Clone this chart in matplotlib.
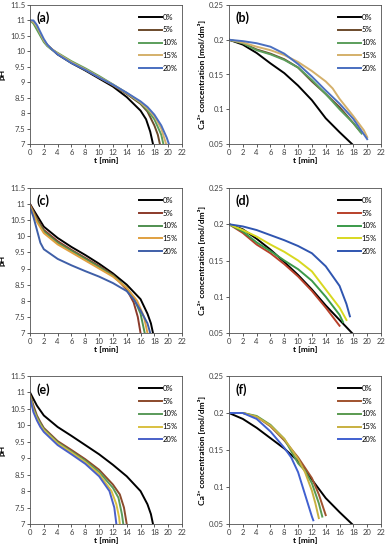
import matplotlib.pyplot as plt
from matplotlib.ticker import FormatStrFormatter, MultipleLocator

plt.rcParams['font.family'] = ['Lato', 'DejaVu Sans']

labels = ['0%', '5%', '10%', '15%', '20%']

# (a) pH
a_t = [
    [0, 0.5, 1, 2, 2.5, 3, 4, 6, 8, 10, 12, 14, 16, 16.8, 17.4, 17.8],
    [0, 0.5, 1, 2, 2.5, 3, 4, 6, 8, 10, 12, 14, 16, 17, 18, 18.5, 18.8],
    [0, 0.5, 1, 2, 2.5, 3, 4, 6, 8, 10, 12, 14, 16, 17, 18, 19, 19.3],
    [0, 0.5, 1, 2, 2.5, 3, 4, 6, 8, 10, 12, 14, 16, 17, 18, 19, 19.7],
    [0, 0.5, 1, 2, 2.5, 3, 4, 6, 8, 10, 12, 14, 16, 17, 18, 19, 19.8, 20.1],
]
a_y = [
    [11, 10.95, 10.75, 10.35, 10.2, 10.1, 9.9, 9.62, 9.38, 9.12, 8.86, 8.52, 8.08, 7.8, 7.4, 7.0],
    [11, 10.95, 10.75, 10.35, 10.2, 10.1, 9.92, 9.64, 9.4, 9.15, 8.9, 8.62, 8.3, 8.05, 7.6, 7.3, 7.0],
    [11, 10.9, 10.7, 10.3, 10.17, 10.08, 9.95, 9.68, 9.45, 9.2, 8.93, 8.65, 8.33, 8.1, 7.8, 7.3, 7.0],
    [11, 10.95, 10.8, 10.35, 10.2, 10.1, 9.93, 9.65, 9.42, 9.17, 8.92, 8.65, 8.35, 8.15, 7.9, 7.5, 7.0],
    [11, 11, 10.85, 10.4, 10.22, 10.1, 9.9, 9.62, 9.4, 9.15, 8.92, 8.66, 8.38, 8.2, 7.95, 7.6, 7.2, 7.0],
]

# (b) Ca2+
b_t = [
    [0, 2, 4, 6, 8, 10, 12, 14, 16, 17.8],
    [0, 2, 4, 6, 8, 10, 12, 14, 16, 18, 19],
    [0, 2, 4, 6, 8, 10, 12, 14, 16, 18, 19.2],
    [0, 2, 4, 6, 8, 10, 12, 14, 15, 16, 18, 19.5, 20],
    [0, 2, 4, 6, 8, 10, 12, 14, 16, 18, 20],
]
b_y = [
    [0.2, 0.193, 0.181, 0.166, 0.152, 0.134, 0.113, 0.087, 0.067, 0.05],
    [0.2, 0.195, 0.186, 0.18, 0.172, 0.16, 0.14, 0.122, 0.103, 0.08, 0.068],
    [0.2, 0.195, 0.185, 0.179, 0.171, 0.16, 0.142, 0.122, 0.1, 0.08, 0.065],
    [0.2, 0.196, 0.19, 0.185, 0.178, 0.168, 0.155, 0.14, 0.13, 0.115, 0.09, 0.07, 0.06],
    [0.2, 0.198, 0.195, 0.19, 0.18, 0.165, 0.147, 0.127, 0.108, 0.086, 0.057],
]

# (c) pH
c_t = [
    [0, 1, 2, 4, 6, 8, 10, 12, 14, 16, 17, 17.5, 17.8],
    [0, 1, 2, 4, 6, 8, 10, 12, 14, 15, 15.6, 16],
    [0, 1, 2, 4, 6, 8, 10, 12, 14, 15, 16, 16.6],
    [0, 1, 2, 4, 6, 8, 10, 12, 14, 15.5, 16.5, 17],
    [0, 0.5, 1, 1.5, 2, 4, 6, 8, 10, 12, 14, 15, 16, 17, 17.4],
]
c_y = [
    [11, 10.65, 10.3, 9.95, 9.67, 9.42, 9.15, 8.85, 8.5, 8.05, 7.6, 7.3, 7.0],
    [11, 10.55, 10.2, 9.85, 9.58, 9.33, 9.08, 8.8, 8.35, 7.95, 7.5, 7.0],
    [10.95, 10.5, 10.15, 9.8, 9.55, 9.3, 9.05, 8.78, 8.4, 8.1, 7.6, 7.0],
    [10.95, 10.45, 10.1, 9.75, 9.5, 9.25, 9.0, 8.75, 8.4, 8.0, 7.5, 7.0],
    [10.9, 10.6, 10.2, 9.8, 9.6, 9.3, 9.1, 8.92, 8.75, 8.55, 8.3, 8.05, 7.7, 7.3, 7.0],
]

# (d) Ca2+
d_t = [
    [0, 2, 4, 6, 8, 10, 12, 14, 16, 17, 17.8],
    [0, 2, 4, 6, 8, 10, 12, 14, 16],
    [0, 2, 4, 6, 8, 10, 12, 14, 16, 16.5],
    [0, 2, 4, 6, 8, 10, 12, 14, 16, 17],
    [0, 2, 4, 6, 8, 10, 12, 14, 16, 17, 17.5],
]
d_y = [
    [0.2, 0.193, 0.18, 0.165, 0.148, 0.13, 0.11, 0.088, 0.068, 0.058, 0.05],
    [0.2, 0.188, 0.172, 0.16, 0.145, 0.128, 0.108, 0.085, 0.06],
    [0.2, 0.19, 0.175, 0.163, 0.15, 0.138, 0.122, 0.1, 0.075, 0.065],
    [0.2, 0.192, 0.183, 0.172, 0.162, 0.15, 0.135, 0.11, 0.085, 0.068],
    [0.2, 0.197, 0.192, 0.185, 0.178, 0.17, 0.16, 0.142, 0.115, 0.09, 0.073],
]

# (e) pH
e_t = [
    [0, 1, 2, 4, 6, 8, 10, 12, 14, 16, 17, 17.5, 17.8],
    [0, 0.5, 1, 1.5, 2, 4, 6, 8, 10, 12, 13, 13.6, 14],
    [0, 0.5, 1, 1.5, 2, 4, 6, 8, 10, 12, 12.8, 13.3, 13.5],
    [0, 0.5, 1, 1.5, 2, 4, 6, 8, 10, 11.8, 12.5, 12.9, 13],
    [0, 0.5, 1, 1.5, 2, 4, 6, 8, 10, 11.5, 12.2, 12.5],
]
e_y = [
    [11, 10.6, 10.3, 9.95, 9.68, 9.4, 9.12, 8.8, 8.45, 8.0, 7.6, 7.3, 7.0],
    [10.95, 10.6, 10.3, 10.1, 9.92, 9.52, 9.25, 8.97, 8.65, 8.2, 7.9, 7.5, 7.0],
    [10.9, 10.5, 10.25, 10.05, 9.88, 9.48, 9.2, 8.92, 8.58, 8.1, 7.8, 7.3, 7.0],
    [10.9, 10.45, 10.2, 10.0, 9.85, 9.45, 9.17, 8.88, 8.52, 8.0, 7.6, 7.2, 7.0],
    [10.85, 10.4, 10.15, 9.95, 9.8, 9.4, 9.12, 8.83, 8.45, 8.0, 7.5, 7.0],
]

# (f) Ca2+
f_t = [
    [0, 2, 4, 6, 8, 10, 12, 14, 16, 17.8],
    [0, 2, 4, 6, 8, 10, 12, 13, 14],
    [0, 2, 4, 6, 8, 10, 11, 12, 13, 13.5],
    [0, 2, 4, 6, 8, 10, 11, 12, 12.5, 13],
    [0, 2, 4, 6, 8, 9, 10, 11, 12, 12.2],
]
f_y = [
    [0.2, 0.192, 0.18, 0.166, 0.152, 0.135, 0.11, 0.085, 0.066, 0.05],
    [0.2, 0.2, 0.195, 0.182, 0.163, 0.14, 0.112, 0.09, 0.062],
    [0.2, 0.2, 0.196, 0.184, 0.165, 0.132, 0.122, 0.105, 0.078, 0.06],
    [0.2, 0.2, 0.195, 0.183, 0.165, 0.138, 0.12, 0.095, 0.078, 0.058],
    [0.2, 0.2, 0.192, 0.175, 0.153, 0.14, 0.12, 0.09, 0.06, 0.055],
]

colors = {
    'a': ['#000000', '#6b4a2b', '#5b9e5b', '#d4b06a', '#4a6fc0'],
    'b': ['#000000', '#6b4a2b', '#5b9e5b', '#d4b06a', '#4a6fc0'],
    'c': ['#000000', '#8b3a2a', '#4f8f50', '#e0a040', '#3f5fa8'],
    'd': ['#000000', '#b8402a', '#3a9a4a', '#d8d820', '#2f55b0'],
    'e': ['#000000', '#8b4a2b', '#5a9a5a', '#d9c040', '#4a60c8'],
    'f': ['#000000', '#a0522d', '#5a9a50', '#c8b040', '#4060d0'],
}

fig = plt.figure(figsize=(3.88, 5.5), dpi=100)

W = 388.0
H = 550.0
rows = [(5, 144), (188, 333), (376, 524)]
cols = [30, 229]
aw = 152

panels = [
    ('a', a_t, a_y, 'ph', 0, 0),
    ('b', b_t, b_y, 'ca', 0, 1),
    ('c', c_t, c_y, 'ph', 1, 0),
    ('d', d_t, d_y, 'ca', 1, 1),
    ('e', e_t, e_y, 'ph', 2, 0),
    ('f', f_t, f_y, 'ca', 2, 1),
]

fs = 5.5
for name, ts, ys, kind, r, c in panels:
    top, bot = rows[r]
    ax = fig.add_axes([cols[c] / W, 1 - bot / H, aw / W, (bot - top) / H])
    for i in range(5):
        ax.plot(ts[i], ys[i], color=colors[name][i], lw=1.4, label=labels[i])
    ax.set_xlim(0, 22)
    ax.xaxis.set_major_locator(MultipleLocator(2))
    if kind == 'ph':
        ax.set_ylim(7, 11.5)
        ax.yaxis.set_major_locator(MultipleLocator(0.5))
        ax.set_ylabel('pH', fontsize=6, fontweight='bold', labelpad=3)
    else:
        ax.set_ylim(0.05, 0.25)
        ax.yaxis.set_major_locator(MultipleLocator(0.05))
        ax.set_ylabel('Ca²⁺ concentration [mol/dm³]', fontsize=6,
                      fontweight='bold', labelpad=2)
    ax.yaxis.set_major_formatter(FormatStrFormatter('%g'))
    ax.xaxis.set_major_formatter(FormatStrFormatter('%g'))
    ax.set_xlabel('t [min]', fontsize=6, fontweight='bold', labelpad=1)
    ax.tick_params(labelsize=fs, direction='out', length=2, width=0.6, pad=1.5,
                   colors='#404040')
    for s in ax.spines.values():
        s.set_linewidth(0.6)
        s.set_color('#505050')
    ax.text(0.04, 0.91, '(' + name + ')', transform=ax.transAxes,
            fontsize=9, fontweight='bold', va='center', ha='left')
    ax.legend(loc='upper right', bbox_to_anchor=(1.0, 0.97), frameon=False,
              fontsize=fs, handlelength=3.0, handletextpad=0.1,
              labelspacing=0.75, borderaxespad=0.2)

fig.savefig('out.png', dpi=100)
